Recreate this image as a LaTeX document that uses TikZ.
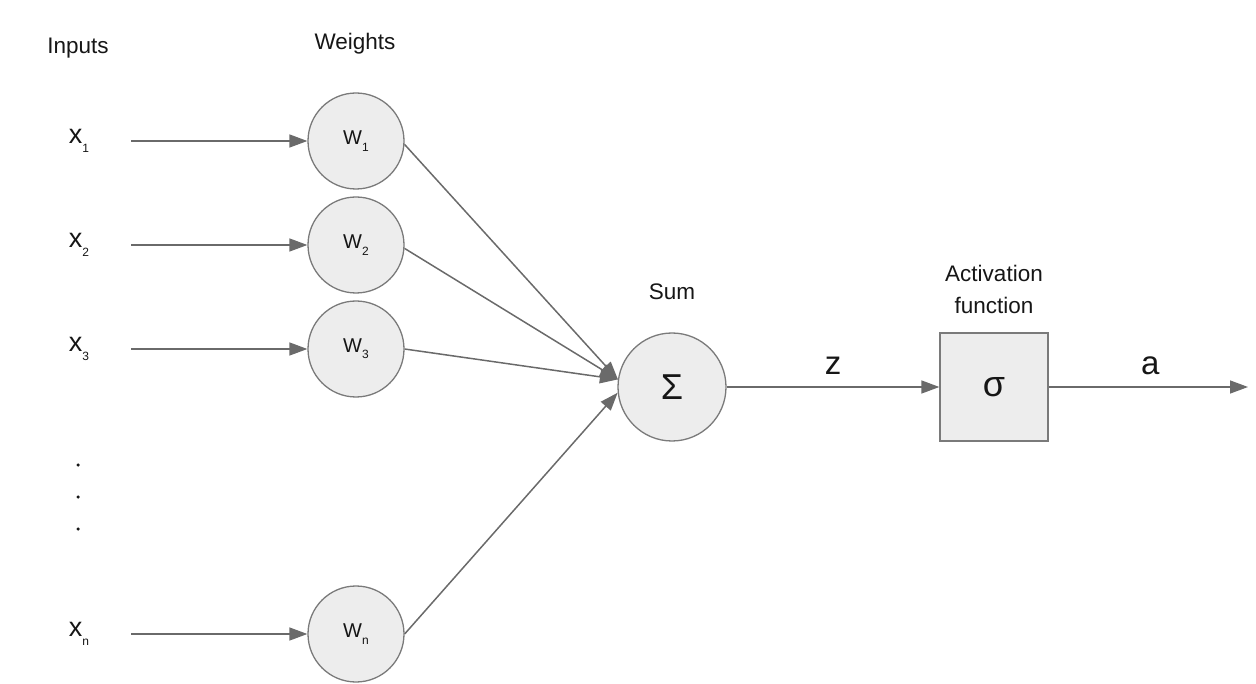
\documentclass[tikz,border=0pt]{standalone}
\usepackage{fontspec}
\setmainfont{Liberation Sans}
\usetikzlibrary{arrows.meta}

\definecolor{linegray}{HTML}{6A6A6A}
\definecolor{edgegray}{HTML}{7A7A7A}
\definecolor{fillgray}{HTML}{EDEDED}
\definecolor{inkgray}{HTML}{161616}

\newcommand{\subidx}[1]{\raisebox{-0.6ex}{\fontsize{12}{12}\selectfont #1}}

\tikzset{
    lbl/.style={text=inkgray,font=\fontsize{22.5}{32}\selectfont},
    inp/.style={text=inkgray,font=\fontsize{27}{30}\selectfont,minimum width=104pt,inner sep=0pt},
    unit/.style={circle,draw=edgegray,fill=fillgray,line width=1.3pt,minimum size=96pt,inner sep=0pt,
        text=inkgray,font=\fontsize{20}{22}\selectfont},
    sumunit/.style={unit,minimum size=108pt,font=\fontsize{36}{38}\selectfont},
    actbox/.style={rectangle,draw=edgegray,fill=fillgray,line width=1.3pt,minimum size=108pt,inner sep=0pt,
        text=inkgray,font=\fontsize{36}{38}\selectfont},
    conn/.style={draw=linegray,line width=1.5pt,-{Triangle[length=18pt,width=13pt]}},
    dot/.style={circle,fill=inkgray,inner sep=0pt,minimum size=3.5pt}
}

\begin{document}
\begin{tikzpicture}[x=1pt,y=-1pt]
    \useasboundingbox (0,0) rectangle (1256,684);

    \node[lbl] (inputs) at (78,48) {Inputs};
    \node[lbl] (weights) at (355,44) {Weights};

    \foreach \i/\y in {1/141,2/245,3/349,n/634} {
        \node[inp] (x\i) at (79,\y) {x\subidx{\i}};
        \node[unit] (w\i) at (356,\y) {W\subidx{\i}};
        \draw[conn] (x\i.east) -- (w\i);
    }

    \node[dot] (d1) at (78,465) {};
    \node[dot] (d2) at (78,497) {};
    \node[dot] (d3) at (78,529) {};

    \node[sumunit] (sum) at (672,387) {Σ};
    \node[lbl] (sumlbl) at (672,292) {Sum};

    \draw[conn] (w1.-4) -- (sum.172);
    \draw[conn] (w2.-4) -- (sum.172);
    \draw[conn] (w3.east) -- (sum.172);
    \draw[conn] (wn.east) -- (sum.186);

    \node[actbox] (act) at (994,387) {σ};
    \node[lbl,align=center] (actlbl) at (994,289) {Activation\\function};

    \coordinate (out) at (1248,387);
    \draw[conn] (sum) -- node[above=8pt,text=inkgray,font=\fontsize{33}{36}\selectfont] (z) {z} (act);
    \draw[conn] (act) -- node[above=8pt,pos=0.51,text=inkgray,font=\fontsize{33}{36}\selectfont] (a) {a} (out);
\end{tikzpicture}
\end{document}
